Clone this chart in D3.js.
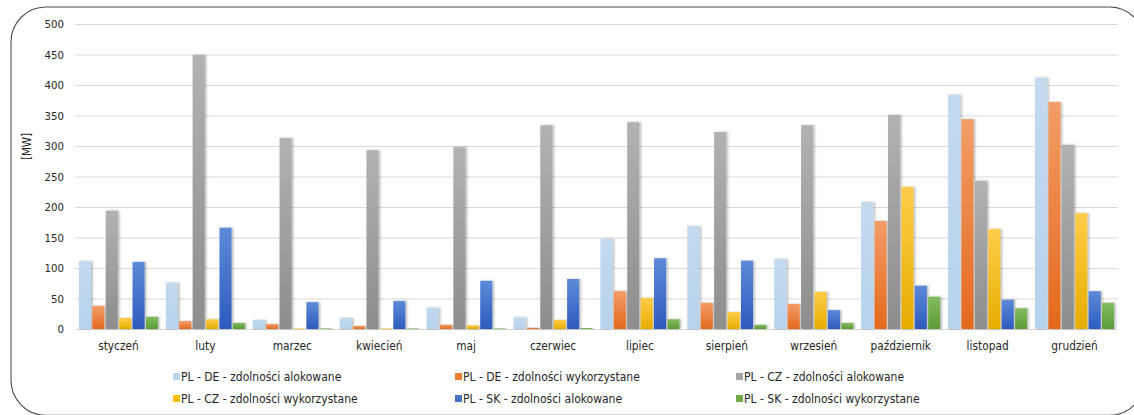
<!DOCTYPE html>
<html>
<head>
<meta charset="utf-8">
<script src="https://cdn.jsdelivr.net/npm/d3@7"></script>
<style>
  html, body { margin: 0; padding: 0; background: #ffffff; }
  svg text { font-family: "DejaVu Sans Condensed", "DejaVu Sans", sans-serif; font-stretch: condensed; fill: #262626; }
</style>
</head>
<body>
<svg id="chart" width="1134" height="415"></svg>
<script>
// Months (categories)
const months = ["styczeń", "luty", "marzec", "kwiecień", "maj", "czerwiec",
                "lipiec", "sierpień", "wrzesień", "październik", "listopad", "grudzień"];

// Series names
const seriesNames = [
  "PL - DE - zdolności alokowane",
  "PL - DE - zdolności wykorzystane",
  "PL - CZ - zdolności alokowane",
  "PL - CZ - zdolności wykorzystane",
  "PL - SK - zdolności alokowane",
  "PL - SK - zdolności wykorzystane"
];

// Monthly values [MW]
const plDeAllocated = [111, 76, 15, 18, 35, 19, 148, 169, 115, 208, 384, 412];
const plDeUsed      = [38, 13, 8, 5, 7, 2, 62, 43, 41, 177, 344, 372];
const plCzAllocated = [194, 449, 313, 293, 298, 334, 339, 323, 334, 351, 243, 302];
const plCzUsed      = [18, 16, 1, 1, 6, 15, 51, 28, 61, 233, 164, 190];
const plSkAllocated = [110, 166, 44, 46, 79, 82, 116, 112, 31, 71, 48, 62];
const plSkUsed      = [20, 10, 1, 1, 1, 1.5, 16, 7, 10, 53, 34, 43];

const yTicks = [0, 50, 100, 150, 200, 250, 300, 350, 400, 450, 500];

const seriesValues = [plDeAllocated, plDeUsed, plCzAllocated, plCzUsed, plSkAllocated, plSkUsed];

// Bar fills: [top, bottom, legend]
const palette = [
  ["#c3daef", "#b7d2ec", "#bdd7ee"],
  ["#f39d68", "#e3691d", "#ed7d31"],
  ["#b2b2b2", "#8d8d8d", "#a5a5a5"],
  ["#ffcd4a", "#e6ad00", "#ffc000"],
  ["#5e8ad8", "#2d5bbd", "#4472c4"],
  ["#83be60", "#5b9a36", "#70ad47"]
];

const svg = d3.select("#chart");
const defs = svg.append("defs");

palette.forEach((c, i) => {
  const g = defs.append("linearGradient")
    .attr("id", "grad" + i)
    .attr("x1", 0).attr("y1", 0).attr("x2", 0).attr("y2", 1);
  g.append("stop").attr("offset", "0%").attr("stop-color", c[0]);
  g.append("stop").attr("offset", "100%").attr("stop-color", c[1]);
});

const shadow = defs.append("filter").attr("id", "barShadow")
  .attr("x", "-20%").attr("y", "-5%").attr("width", "160%").attr("height", "110%");
shadow.append("feDropShadow")
  .attr("dx", 1.5).attr("dy", 0).attr("stdDeviation", 0.9)
  .attr("flood-color", "#000").attr("flood-opacity", 0.3);

// Outer rounded frame
svg.append("rect")
  .attr("x", 11).attr("y", 7)
  .attr("width", 1133.5).attr("height", 408.3)
  .attr("rx", 35).attr("ry", 35)
  .attr("fill", "none")
  .attr("stroke", "#4d4d4d")
  .attr("stroke-width", 1.1);

const plot = { left: 75, right: 1118, top: 24, bottom: 329 };

const y = d3.scaleLinear().domain([0, 500]).range([plot.bottom, plot.top]);

const x0 = d3.scaleBand()
  .domain(months)
  .range([plot.left, plot.right])
  .paddingInner(0.09)
  .paddingOuter(0.045);

const x1 = d3.scaleBand()
  .domain(d3.range(seriesValues.length))
  .range([0, x0.bandwidth()])
  .paddingInner(0.1);

// Gridlines
const yAxisGrid = d3.axisLeft(y)
  .tickValues(yTicks)
  .tickSize(-(plot.right - plot.left))
  .tickFormat("");
const grid = svg.append("g")
  .attr("transform", `translate(${plot.left},0)`)
  .call(yAxisGrid);
grid.select(".domain").remove();
grid.selectAll(".tick line")
  .attr("stroke", "#d9d9d9")
  .attr("stroke-width", 1);

// Y axis labels
const yAxis = d3.axisLeft(y)
  .tickValues(yTicks)
  .tickSize(0)
  .tickPadding(11)
  .tickFormat(d3.format("d"));
const ya = svg.append("g")
  .attr("transform", `translate(${plot.left},0)`)
  .call(yAxis);
ya.select(".domain").remove();
ya.selectAll("text")
  .attr("font-size", "11.3px")
  .attr("font-family", null)
  .attr("fill", "#262626");

// Bars
const groups = svg.append("g").selectAll("g")
  .data(months)
  .join("g")
  .attr("transform", d => `translate(${x0(d)},0)`);

groups.selectAll("rect")
  .data((m, mi) => seriesValues.map((vals, si) => ({ si, v: vals[mi] })))
  .join("rect")
  .attr("x", d => x1(d.si))
  .attr("y", d => y(d.v))
  .attr("width", x1.bandwidth())
  .attr("height", d => y(0) - y(d.v))
  .attr("fill", d => `url(#grad${d.si})`)
  .attr("filter", "url(#barShadow)");

// X axis labels
const xAxis = d3.axisBottom(x0).tickSize(0).tickPadding(13);
const xa = svg.append("g")
  .attr("transform", `translate(0,${plot.bottom})`)
  .call(xAxis);
xa.select(".domain").remove();
xa.selectAll("text")
  .attr("font-size", "11.8px")
  .attr("font-family", null)
  .attr("fill", "#262626");

// Y axis title
svg.append("text")
  .attr("transform", `translate(31,${(plot.top + plot.bottom) / 2 - 30}) rotate(-90)`)
  .attr("text-anchor", "middle")
  .attr("font-size", "11.5px")
  .text("[MW]");

// Legend
const legendCols = [173, 455, 736];
const legendRows = [377, 399];
const legend = svg.append("g");
seriesNames.forEach((name, i) => {
  const lx = legendCols[i % 3];
  const ly = legendRows[Math.floor(i / 3)];
  legend.append("rect")
    .attr("x", lx).attr("y", ly - 4)
    .attr("width", 7).attr("height", 7)
    .attr("fill", palette[i][2]);
  legend.append("text")
    .attr("x", lx + 8).attr("y", ly)
    .attr("dy", "0.35em")
    .attr("font-size", "12px")
    .text(name);
});
</script>
</body>
</html>
